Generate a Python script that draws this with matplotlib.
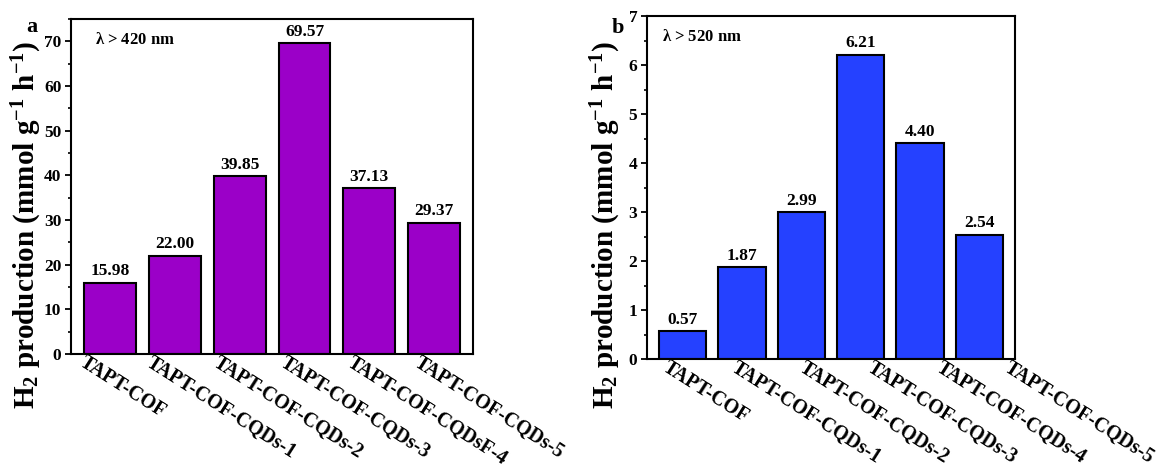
import matplotlib
matplotlib.use("Agg")
import matplotlib.pyplot as plt
from matplotlib.ticker import MultipleLocator
import numpy as np

plt.rcParams['font.family'] = ['Liberation Serif', 'DejaVu Serif']
plt.rcParams['font.weight'] = 'bold'
plt.rcParams['mathtext.fontset'] = 'custom'
plt.rcParams['mathtext.rm'] = 'Liberation Serif:bold'
plt.rcParams['mathtext.bf'] = 'Liberation Serif:bold'
plt.rcParams['mathtext.default'] = 'bf'

# H2 evolution rates (mmol g^-1 h^-1)
labels_a = ["TAPT-COF", "TAPT-COF-CQDs-1", "TAPT-COF-CQDs-2",
            "TAPT-COF-CQDs-3", "TAPT-COF-CQDsF-4", "TAPT-COF-CQDs-5"]
rates_a = [15.98, 22.00, 39.85, 69.57, 37.13, 29.37]

labels_b = ["TAPT-COF", "TAPT-COF-CQDs-1", "TAPT-COF-CQDs-2",
            "TAPT-COF-CQDs-3", "TAPT-COF-CQDs-4", "TAPT-COF-CQDs-5"]
rates_b = [0.57, 1.87, 2.99, 6.21, 4.40, 2.54]

fig = plt.figure(figsize=(11.74, 4.68), dpi=100)
ax_a = fig.add_axes([0.0605, 0.2436, 0.3425, 0.7158])
ax_b = fig.add_axes([0.5511, 0.2329, 0.3135, 0.7329])

ylabel = r'H$_2$ production (mmol g$^{-1}$ h$^{-1}$)'


def draw_panel(ax, labels, rates, color, ymax, major, minor, note, note_xy,
               letter, letter_xy, ylab_xy, lab_step, lab_shift):
    x = np.arange(len(rates))
    ax.bar(x, rates, width=0.8, color=color, edgecolor='black', linewidth=1.5)
    for xi, v in zip(x, rates):
        ax.text(xi, v + ymax * 0.01, f"{v:.2f}", ha='center', va='bottom',
                fontsize=12.5, fontweight='bold')
    ax.set_xlim(-0.6, len(rates) - 0.4)
    ax.set_ylim(0, ymax)
    ax.yaxis.set_major_locator(MultipleLocator(major))
    ax.yaxis.set_minor_locator(MultipleLocator(minor))
    ax.tick_params(axis='y', which='major', direction='out', length=4.5, width=1.3,
                   labelsize=12.5, pad=2.5)
    ax.tick_params(axis='y', which='minor', direction='out', length=2.5, width=1.2)
    ax.set_xticks([])
    for s in ax.spines.values():
        s.set_linewidth(1.5)
    # slanted category names under the bars
    for xi, lab in zip(x, labels):
        ax.text(xi * lab_step + lab_shift, ymax * 0.004, lab, rotation=-32.5,
                rotation_mode='anchor', ha='left', va='top', fontsize=14.3,
                fontweight='bold', transform=ax.transData, clip_on=False)
    ax.text(note_xy[0], note_xy[1], note, transform=ax.transAxes, ha='left',
            va='center', fontsize=12, fontweight='bold')
    ax.set_ylabel(ylabel, fontsize=21, fontweight='bold')
    ax.yaxis.set_label_coords(*ylab_xy)
    ax.text(letter_xy[0], letter_xy[1], letter, transform=ax.transAxes,
            ha='center', va='top', fontsize=16, fontweight='bold')


draw_panel(ax_a, labels_a, rates_a, '#9B00C8', 75, 10, 5,
           r'$\lambda$ > 420 nm', (0.06, 0.937), 'a', (-0.097, 1.005),
           (-0.068, 0.385), 1.034, -0.36)
draw_panel(ax_b, labels_b, rates_b, '#2541FF', 7, 1, 0.5,
           r'$\lambda$ > 520 nm', (0.04, 0.94), 'b', (-0.079, 0.995),
           (-0.066, 0.39), 1.15, -0.21)

fig.savefig("out.png", dpi=100)
